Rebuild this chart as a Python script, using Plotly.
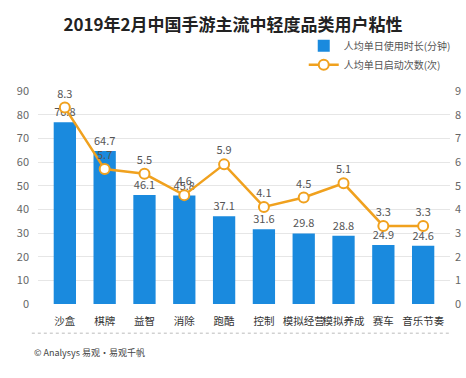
import plotly.graph_objects as go

categories = ["沙盒", "棋牌", "益智", "消除", "跑酷", "控制", "模拟经营", "模拟养成", "赛车", "音乐节奏"]
duration_min = [76.8, 64.7, 46.1, 45.8, 37.1, 31.6, 29.8, 28.8, 24.9, 24.6]
launch_times = [8.3, 5.7, 5.5, 4.6, 5.9, 4.1, 4.5, 5.1, 3.3, 3.3]
left_ticks = list(range(0, 100, 10))
right_ticks = list(range(0, 10))

FONT = "Noto Sans CJK SC"

fig = go.Figure()
fig.add_trace(go.Bar(
    x=categories, y=duration_min, name="人均单日使用时长(分钟)",
    marker=dict(color="#1a8ade", line=dict(width=0)),
    width=0.56,
    text=[f"{v:.1f}" for v in duration_min], textposition="outside",
    textfont=dict(size=11, color="#555555", family=FONT),
    cliponaxis=False,
))
fig.add_trace(go.Scatter(
    x=categories, y=launch_times, name="人均单日启动次数(次)", yaxis="y2",
    mode="lines+markers+text",
    line=dict(color="#f0a11e", width=2.5),
    marker=dict(size=10, color="white", line=dict(color="#f0a11e", width=2)),
    text=[f"{v:.1f}" for v in launch_times], textposition="top center",
    textfont=dict(size=11, color="#555555", family=FONT),
    cliponaxis=False,
))

fig.update_layout(
    width=466, height=378,
    margin=dict(l=38, r=16, t=91, b=74, autoexpand=False),
    paper_bgcolor="white", plot_bgcolor="white",
    font=dict(family=FONT, color="#555555", size=11),
    title=dict(text="<b>2019年2月中国手游主流中轻度品类用户粘性</b>",
               x=0.5, xanchor="center", y=0.934, yanchor="middle",
               font=dict(size=17, color="#222222", family=FONT)),
    showlegend=True,
    legend=dict(x=0.645, xanchor="left", y=1.28, yanchor="top",
                yref="paper", orientation="v",
                font=dict(size=10, color="#555555", family=FONT),
                bgcolor="rgba(0,0,0,0)", tracegroupgap=0, itemwidth=30),
    xaxis=dict(showgrid=False, showline=False, ticks="", tickangle=0,
               automargin=False, ticklabelstandoff=9,
               tickfont=dict(size=10.5, color="#333333", family=FONT)),
    yaxis=dict(range=[0, 90], tickvals=left_ticks, showgrid=True,
               gridcolor="#e6e6e6", zeroline=False, automargin=False,
               ticklabelstandoff=8,
               tickfont=dict(size=11, color="#666666")),
    yaxis2=dict(range=[0, 9], tickvals=right_ticks, overlaying="y", side="right",
                showgrid=False, zeroline=False, automargin=False,
                ticklabelstandoff=4,
                tickfont=dict(size=11, color="#666666")),
    bargap=0.44,
)

fig.add_shape(type="line", xref="paper", yref="paper",
              x0=-0.015, x1=1.0, y0=-0.137, y1=-0.137,
              line=dict(color="#bbbbbb", width=1, dash="dot"))
fig.add_annotation(text="© Analysys 易观·易观千帆", xref="paper", yref="paper",
                   x=-0.015, y=-0.23, xanchor="left", yanchor="middle",
                   showarrow=False, font=dict(size=9, color="#444444", family=FONT))

fig.write_html("out.html", config={"displayModeBar": False},
               post_script="document.body.style.margin='0';document.body.style.overflow='hidden';")
